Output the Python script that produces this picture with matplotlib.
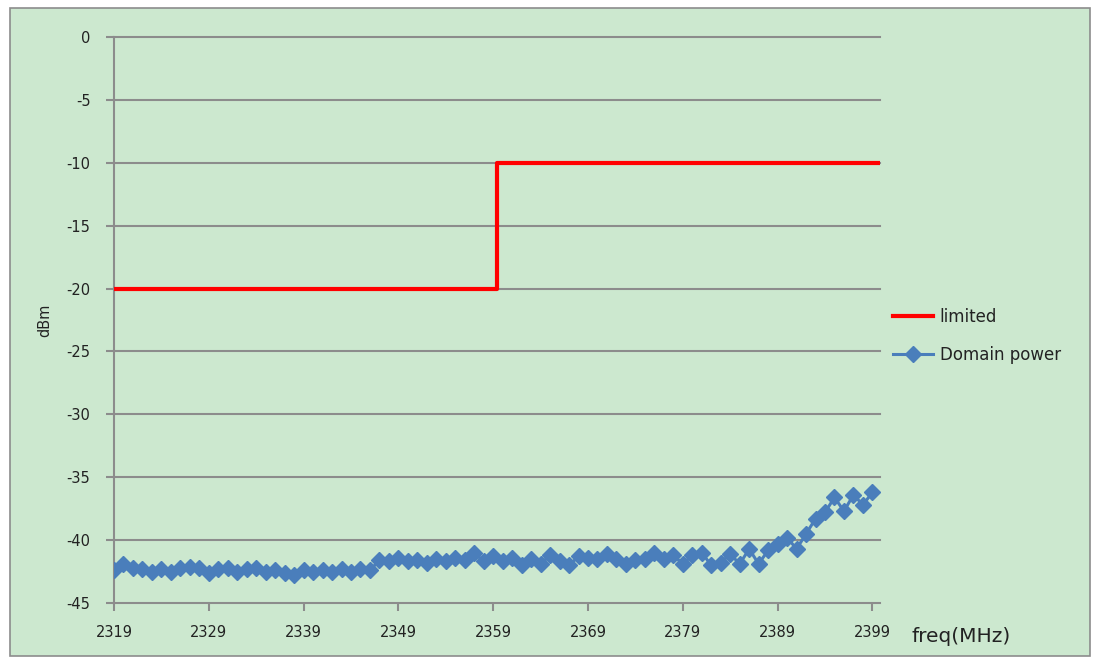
import matplotlib
matplotlib.use("Agg")
import matplotlib.pyplot as plt
from matplotlib.patches import Rectangle

plt.rcParams['axes.unicode_minus'] = False
plt.rcParams['font.family'] = ['DejaVu Sans']

freq = list(range(2319, 2400))
domain_power = [
    -42.4, -41.9, -42.2, -42.3, -42.5, -42.3, -42.5, -42.2, -42.1, -42.2,
    -42.6, -42.3, -42.2, -42.5, -42.3, -42.2, -42.5, -42.4, -42.6, -42.8,
    -42.4, -42.5, -42.4, -42.5, -42.3, -42.5, -42.3, -42.4, -41.6, -41.7,
    -41.4, -41.7, -41.6, -41.8, -41.5, -41.7, -41.4, -41.6, -41.0, -41.7,
    -41.3, -41.7, -41.4, -42.0, -41.5, -41.9, -41.2, -41.7, -42.0, -41.3,
    -41.4, -41.5, -41.1, -41.5, -41.9, -41.6, -41.5, -41.0, -41.5, -41.2,
    -41.9, -41.2, -41.0, -42.0, -41.8, -41.1, -41.9, -40.7, -41.9, -40.8,
    -40.3, -39.8, -40.7, -39.5, -38.3, -37.8, -36.6, -37.7, -36.4, -37.2,
    -36.2,
]
limit_freq = [2319, 2359.4, 2359.4, 2399.6]
limit_dbm = [-20, -20, -10, -10]

x_ticks = list(range(2319, 2400, 10))
y_ticks = list(range(0, -50, -5))

W, H = 1094, 663
fig = plt.figure(figsize=(W / 100, H / 100), dpi=100)
fig.patch.set_facecolor('white')
bg = '#CCE8CF'
fig.patches.append(Rectangle((10 / W, 1 - 656 / H), 1080 / W, 648 / H,
                             transform=fig.transFigure, facecolor=bg,
                             edgecolor='#8c8c8c', linewidth=1.2, zorder=-10))

ax = fig.add_axes([114 / W, 1 - 603 / H, (880 - 114) / W, (603 - 37) / H])
ax.set_facecolor(bg)

grid_c = '#8c8c8c'
for y in y_ticks[:-1]:
    ax.axhline(y, color=grid_c, linewidth=1.5, zorder=1, clip_on=False)

ax.plot(limit_freq, limit_dbm, color='#FF0000', linewidth=3, zorder=3,
        label='limited')
ax.plot(freq, domain_power, color='#4A7EBB', linewidth=2.2, marker='D',
        markersize=8.5, markeredgecolor='#4A7EBB', zorder=4,
        label='Domain power')

ax.set_xlim(2319, 2399.8)
ax.set_ylim(-45, 0)
ax.set_xticks(x_ticks)
ax.set_xticklabels([str(t) for t in x_ticks])
ax.set_yticks(y_ticks)
ax.set_yticklabels([str(t) for t in y_ticks])

for s in ['top', 'right']:
    ax.spines[s].set_visible(False)
for s in ['left', 'bottom']:
    ax.spines[s].set_color(grid_c)
    ax.spines[s].set_linewidth(1.5)

ax.tick_params(axis='both', colors=grid_c, width=1.5, length=6,
               labelcolor='#222222', labelsize=10.5)
ax.tick_params(axis='y', pad=11)
ax.tick_params(axis='x', pad=10)

ax.set_ylabel('dBm', fontsize=10.5, color='#222222', labelpad=10)
fig.text(912 / W, 1 - 636 / H, 'freq(MHz)', fontsize=14.5, color='#222222',
         ha='left', va='center')

leg = ax.legend(loc='center left', bbox_to_anchor=(1.017, 0.4717),
                frameon=False, fontsize=12, handlelength=2.4,
                handletextpad=0.4, labelspacing=1.2, borderpad=0,
                borderaxespad=0)
for t in leg.get_texts():
    t.set_color('#222222')

fig.savefig('out.png', dpi=100, facecolor=fig.get_facecolor())
